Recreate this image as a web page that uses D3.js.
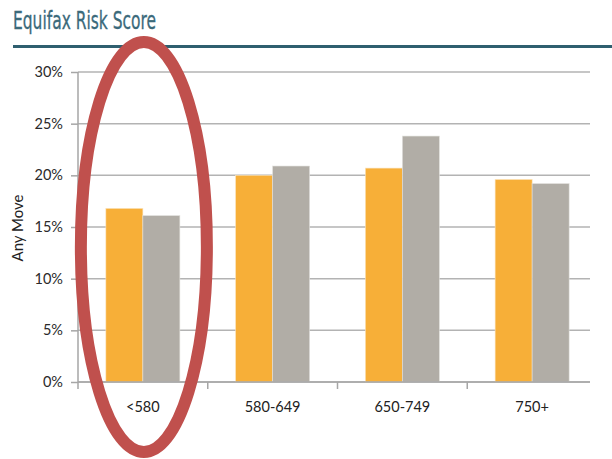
<!DOCTYPE html>
<html>
<head>
<meta charset="utf-8">
<script src="https://cdn.jsdelivr.net/npm/d3@7"></script>
<style>
  html, body { margin: 0; padding: 0; background: #fff; }
  svg { display: block; }
</style>
</head>
<body>
<svg id="chart" width="612" height="459"></svg>
<script>
// Score bands and the two series of "any move" rates
const categories = ["<580", "580-649", "650-749", "750+"];
const seriesA = [0.168, 0.200, 0.207, 0.196];
const seriesB = [0.161, 0.209, 0.238, 0.192];
const yTicks = [0, 0.05, 0.10, 0.15, 0.20, 0.25, 0.30];
const title = "Equifax Risk Score";
const yLabel = "Any Move";
const highlighted = "<580";

const svg = d3.select("#chart");
const font = "Lato, 'Open Sans', sans-serif";

// Title and rule
svg.append("text")
  .attr("x", 13).attr("y", 29)
  .attr("font-family", "'DejaVu Sans Condensed', 'DejaVu Sans', sans-serif")
  .attr("font-size", 25)
  .attr("textLength", 143)
  .attr("lengthAdjust", "spacingAndGlyphs")
  .attr("fill", "#3b6a7b")
  .attr("stroke", "#3b6a7b").attr("stroke-width", 0.3)
  .text(title);

svg.append("rect")
  .attr("x", 13).attr("y", 45).attr("width", 599).attr("height", 3)
  .attr("fill", "#2f5f6f");

const plotLeft = 78, plotRight = 590, plotTop = 72, plotBottom = 382;

const x = d3.scaleBand().domain(categories).range([plotLeft, 597]).paddingInner(0).paddingOuter(0);
const y = d3.scaleLinear().domain([0, 0.30]).range([plotBottom, plotTop]);

// Gridlines
svg.append("g")
  .selectAll("line")
  .data(yTicks)
  .join("line")
  .attr("x1", plotLeft).attr("x2", plotRight)
  .attr("y1", d => y(d)).attr("y2", d => y(d))
  .attr("stroke", "#b3b3b3").attr("stroke-width", 1.5);

// Y axis
const yAxis = svg.append("g")
  .attr("transform", `translate(${plotLeft},0)`)
  .call(d3.axisLeft(y).tickValues(yTicks).tickFormat(d3.format(".0%")).tickSize(7).tickPadding(8));
yAxis.select(".domain").attr("stroke", "#a6a6a6").attr("stroke-width", 1.5)
  .attr("d", `M0,${plotTop}V${plotBottom}`);
yAxis.selectAll(".tick line").attr("stroke", "#a6a6a6").attr("stroke-width", 1.5);
yAxis.selectAll(".tick text")
  .attr("font-family", font).attr("font-size", 14.5).attr("fill", "#2a2a2a");

// Y label
svg.append("text")
  .attr("transform", "translate(23,228) rotate(-90)")
  .attr("text-anchor", "middle")
  .attr("font-family", font).attr("font-size", 15).attr("fill", "#222")
  .text(yLabel);

// Bars
const barW = 37;
const bars = svg.append("g");
categories.forEach((c, i) => {
  const cx = x(c) + x.bandwidth() / 2;
  bars.append("rect")
    .attr("x", cx - barW).attr("y", y(seriesA[i]))
    .attr("width", barW).attr("height", y(0) - y(seriesA[i]))
    .attr("fill", "#f7af38").attr("stroke", "#fbe3bb").attr("stroke-width", 0.6);
  bars.append("rect")
    .attr("x", cx).attr("y", y(seriesB[i]))
    .attr("width", barW).attr("height", y(0) - y(seriesB[i]))
    .attr("fill", "#b1ada6").attr("stroke", "#e2e0dc").attr("stroke-width", 0.6);
});

// X axis
svg.append("line")
  .attr("x1", plotLeft).attr("x2", plotRight)
  .attr("y1", plotBottom).attr("y2", plotBottom)
  .attr("stroke", "#a6a6a6").attr("stroke-width", 1.5);
svg.append("g")
  .selectAll("line")
  .data(categories)
  .join("line")
  .attr("x1", d => x(d)).attr("x2", d => x(d))
  .attr("y1", plotBottom).attr("y2", plotBottom + 7)
  .attr("stroke", "#a6a6a6").attr("stroke-width", 1.5);
svg.append("g")
  .selectAll("text")
  .data(categories)
  .join("text")
  .attr("x", d => x(d) + x.bandwidth() / 2)
  .attr("y", 412)
  .attr("text-anchor", "middle")
  .attr("font-family", font).attr("font-size", 14.5).attr("fill", "#222")
  .text(d => d);

// Highlight ring around the first band
svg.append("ellipse")
  .attr("cx", x(highlighted) + x.bandwidth() / 2 + 1)
  .attr("cy", 247)
  .attr("rx", 63).attr("ry", 205)
  .attr("fill", "none")
  .attr("stroke", "#c0504d").attr("stroke-width", 12);
</script>
</body>
</html>
